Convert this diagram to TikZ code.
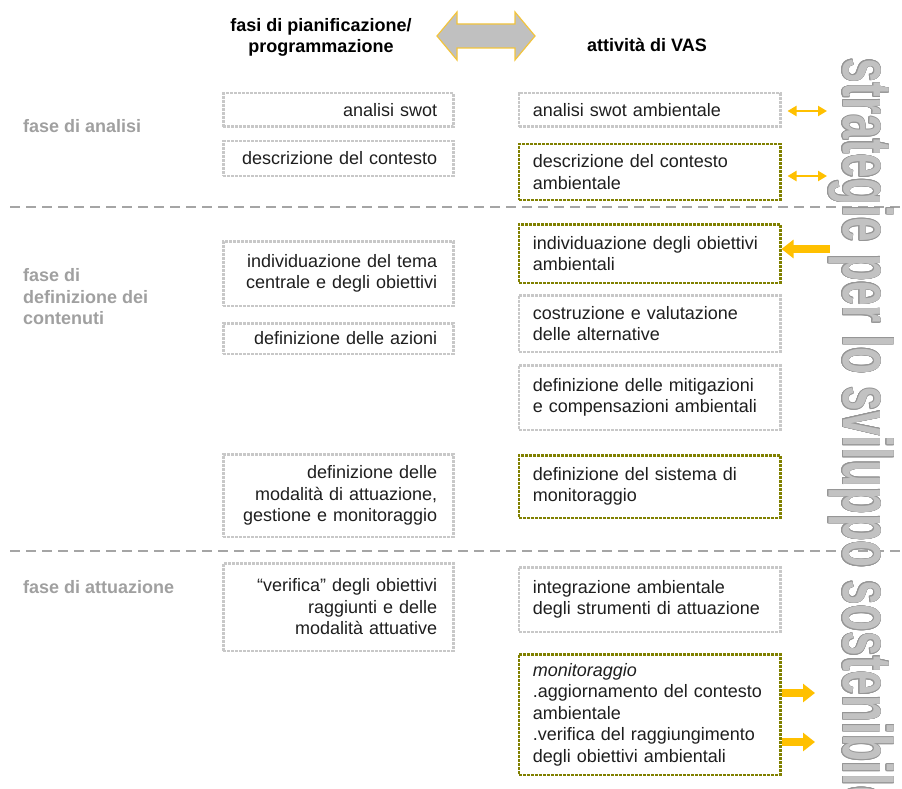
\documentclass[tikz,border=0pt]{standalone}
\usepackage{fontspec}
\setmainfont{Liberation Sans}
\usepackage{contour}
\usetikzlibrary{positioning,arrows.meta}
\definecolor{boxgray}{RGB}{200,200,200}
\definecolor{boxolive}{RGB}{128,128,0}
\definecolor{textdark}{RGB}{30,30,30}
\definecolor{phasegray}{RGB}{160,160,160}
\definecolor{sepgray}{RGB}{165,165,165}
\definecolor{vasyellow}{RGB}{255,192,0}
\definecolor{arrowgray}{RGB}{192,192,192}
\definecolor{arrowedge}{RGB}{242,196,60}
\definecolor{vertfill}{RGB}{194,194,194}
\definecolor{vertline}{RGB}{150,150,150}
\contourlength{0.9pt}
\tikzset{plan box/.style={draw=boxgray,line width=2.5pt,dash pattern=on 3pt off 1pt,text width=198pt,inner xsep=16pt,inner ysep=4pt,align=right,text=textdark,font=\fontsize{18}{21.5}\selectfont},
    vas box/.style={plan box,text width=233.5pt,inner xsep=14pt,align=left},
    key box/.style={vas box,draw=boxolive},
    phase label/.style={anchor=west,align=left,inner sep=0pt,text=phasegray,font=\fontsize{18}{21.5}\selectfont\bfseries},
    col title/.style={align=center,inner sep=0pt,font=\fontsize{18}{21}\selectfont\bfseries},
    phase line/.style={draw=sepgray,line width=1.5pt,dash pattern=on 10pt off 6pt},
    link arrow/.style={draw=vasyellow,line width=2.5pt,{Triangle[length=9pt,width=10pt]}-{Triangle[length=9pt,width=10pt]}},
    feed arrow/.style={draw=vasyellow,line width=8pt,-{Triangle[length=12pt,width=18pt]}}}

\begin{document}
\begin{tikzpicture}[x=1pt,y=-1pt]
            \useasboundingbox (0,0) rectangle (902,789);

            \path[phase line] (10,207) -- (902,207);
            \path[phase line] (10,551) -- (902,551);

            \node[col title] (tplan) at (321,37.5) {fasi di pianificazione/\\programmazione};
            \node[col title] (tvas) at (647,45) {attività di VAS};
            \filldraw[fill=arrowgray,draw=arrowedge,line width=1.2pt]
            (437,36) -- (457,12) -- (457,24) -- (515,24) -- (515,12) -- (535,36)
            -- (515,60) -- (515,48) -- (457,48) -- (457,60) -- cycle;

            \node[phase label] (fanalisi) at (23,126) {fase di analisi};
            \node[phase label] (fdefin) at (23,297) {fase di\\definizione dei\\contenuti};
            \node[phase label] (fattua) at (23,587) {fase di attuazione};

            \node[plan box,minimum height=33.5pt,anchor=north west] (swot) at (222,92) {analisi swot};
            \node[plan box,minimum height=34.5pt] (contesto) [below = 12pt of swot] {descrizione del contesto};
            \node[plan box,minimum height=64.5pt] (tema) [below = 63pt of contesto] {individuazione del tema\\centrale e degli obiettivi};
            \node[plan box,minimum height=30.5pt] (azioni) [below = 15pt of tema] {definizione delle azioni};
            \node[plan box,minimum height=82.5pt] (modalita) [below = 98pt of azioni] {definizione delle\\modalità di attuazione,\\gestione e monitoraggio};
            \node[plan box,minimum height=87.5pt] (verifica) [below = 24pt of modalita] {“verifica” degli obiettivi\\raggiunti e delle\\modalità attuative};

            \node[vas box,minimum height=33.5pt] (swotamb) [right = 63pt of swot] {analisi swot ambientale};
            \node[key box,minimum height=55.5pt] (contamb) [below = 15pt of swotamb] {descrizione del contesto\\ambientale};
            \node[key box,minimum height=58.5pt] (obiettivi) [below = 22pt of contamb] {individuazione degli obiettivi\\ambientali};
            \node[vas box,minimum height=56.5pt] (alternative) [below = 10pt of obiettivi] {costruzione e valutazione\\delle alternative};
            \node[vas box,minimum height=64.5pt] (mitigazioni) [below = 11pt of alternative] {definizione delle mitigazioni\\e compensazioni ambientali};
            \node[key box,minimum height=62.5pt] (sistema) [below = 23pt of mitigazioni] {definizione del sistema di\\monitoraggio};
            \node[vas box,minimum height=64.5pt] (integrazione) [below = 47pt of sistema] {integrazione ambientale\\degli strumenti di attuazione};
            \node[key box,minimum height=120.5pt] (monit) [below = 20pt of integrazione] {\textit{monitoraggio}\\.aggiornamento del contesto\\ambientale\\.verifica del raggiungimento\\degli obiettivi ambientali};

            \node[rotate=-90,anchor=base west,inner sep=0pt,text=vertfill,font=\fontsize{70}{70}\selectfont\bfseries] (sviluppo) at (843,58)
            {\scalebox{0.63}[1]{\contour{vertline}{strategie per lo sviluppo sostenibile}}};

            \coordinate (s1) at (827,111);
            \coordinate (s2) at (827,176);
            \coordinate (s3) at (830,249);
            \coordinate (m1) at (815,693);
            \coordinate (m2) at (815,742);

            \draw[link arrow,shorten <=6pt] (swotamb.east |- s1) -- (s1);
            \draw[link arrow,shorten <=6pt] (contamb.east |- s2) -- (s2);
            \draw[feed arrow] (s3) -- (obiettivi.east |- s3);
            \draw[feed arrow] (monit.east |- m1) -- (m1);
            \draw[feed arrow] (monit.east |- m2) -- (m2);
        \end{tikzpicture}
\end{document}
